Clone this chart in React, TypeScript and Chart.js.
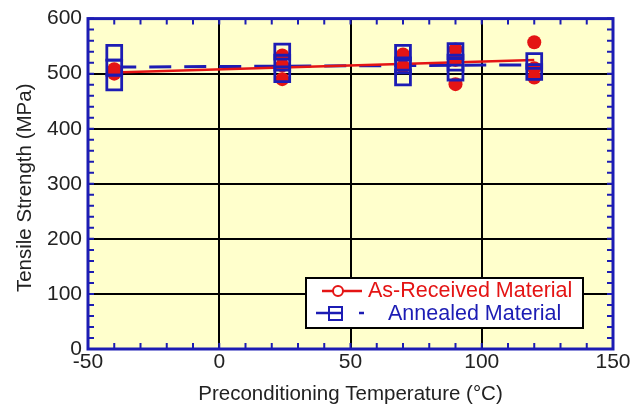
import { useEffect, useRef } from 'react';
import { Chart, registerables } from 'chart.js';

Chart.register(...registerables);

// ---- Data ----
const asReceivedX = [-40, -40, 24, 24, 24, 70, 70, 90, 90, 90, 120, 120, 120];
const asReceivedY = [508, 500, 533, 515, 490, 535, 513, 544, 525, 481, 557, 510, 493];
const annealedX = [-40, -40, -40, 24, 24, 24, 70, 70, 70, 90, 90, 90, 120, 120];
const annealedY = [538, 511, 484, 540, 520, 499, 538, 515, 493, 541, 520, 502, 523, 503];
const fitX = [-40, 120];
const asReceivedFitY = [502, 525];
const annealedFitY = [512, 516];

const X_MIN = -50;
const X_MAX = 150;
const Y_MIN = 0;
const Y_MAX = 600;
const xMajorTicks = [-50, 0, 50, 100, 150];
const yMajorTicks = [0, 100, 200, 300, 400, 500, 600];

const xTitle = 'Preconditioning Temperature (°C)';
const yTitle = 'Tensile Strength (MPa)';
const legendRed = 'As-Received Material';
const legendBlue = 'Annealed Material';

const RED = '#e41414';
const BLUE = '#1c1cb4';
const PLOT_BG = '#ffffcc';
const TEXT = '#222222';
const FONT = '"Liberation Sans", Arial, Helvetica, sans-serif';

const zip = (xs: number[], ys: number[]) => xs.map((x, i) => ({ x, y: ys[i] }));

const decorPlugin = {
  id: 'decor',
  beforeDraw(chart: any) {
    const { ctx, chartArea: a } = chart;
    ctx.save();
    ctx.fillStyle = '#ffffff';
    ctx.fillRect(0, 0, chart.width, chart.height);
    ctx.fillStyle = PLOT_BG;
    ctx.fillRect(a.left, a.top, a.right - a.left, a.bottom - a.top);
    ctx.restore();
  },
  afterDraw(chart: any) {
    const { ctx, chartArea: a } = chart;
    const xs = chart.scales.x;
    const ys = chart.scales.y;
    ctx.save();
    // minor ticks
    ctx.strokeStyle = BLUE;
    ctx.lineWidth = 2;
    const tl = 6;
    ctx.beginPath();
    for (let v = X_MIN; v <= X_MAX; v += 10) {
      const px = xs.getPixelForValue(v);
      ctx.moveTo(px, a.bottom);
      ctx.lineTo(px, a.bottom - tl);
      ctx.moveTo(px, a.top);
      ctx.lineTo(px, a.top + tl);
    }
    for (let v = Y_MIN; v <= Y_MAX; v += 20) {
      const py = ys.getPixelForValue(v);
      ctx.moveTo(a.left, py);
      ctx.lineTo(a.left + tl, py);
      ctx.moveTo(a.right, py);
      ctx.lineTo(a.right - tl, py);
    }
    ctx.stroke();
    // frame
    ctx.lineWidth = 3;
    ctx.strokeRect(a.left, a.top, a.right - a.left, a.bottom - a.top);

    // legend
    const lx = 306, ly = 278, lw = 277, lh = 50;
    ctx.fillStyle = '#ffffff';
    ctx.fillRect(lx, ly, lw, lh);
    ctx.strokeStyle = '#000';
    ctx.lineWidth = 2;
    ctx.strokeRect(lx, ly, lw, lh);

    ctx.font = `21.5px ${FONT}`;
    ctx.textBaseline = 'middle';
    ctx.textAlign = 'left';
    // red row
    ctx.strokeStyle = RED;
    ctx.lineWidth = 2.5;
    ctx.beginPath();
    ctx.moveTo(322, 291);
    ctx.lineTo(362, 291);
    ctx.stroke();
    ctx.beginPath();
    ctx.arc(338, 291, 5, 0, Math.PI * 2);
    ctx.fillStyle = '#fff';
    ctx.fill();
    ctx.lineWidth = 2;
    ctx.stroke();
    ctx.fillStyle = RED;
    ctx.fillText(legendRed, 368, 291);
    // blue row
    ctx.strokeStyle = BLUE;
    ctx.lineWidth = 2.5;
    ctx.beginPath();
    ctx.moveTo(316, 313);
    ctx.lineTo(342, 313);
    ctx.moveTo(359, 313);
    ctx.lineTo(364, 313);
    ctx.stroke();
    ctx.lineWidth = 2;
    ctx.strokeRect(329, 307, 13, 13);
    ctx.fillStyle = BLUE;
    ctx.fillText(legendBlue, 388, 314);

    // axis titles
    ctx.fillStyle = TEXT;
    ctx.font = `20.5px ${FONT}`;
    ctx.textAlign = 'center';
    ctx.textBaseline = 'middle';
    ctx.fillText(xTitle, (a.left + a.right) / 2, 394);
    ctx.save();
    ctx.translate(25, (a.top + a.bottom) / 2 + 4);
    ctx.rotate(-Math.PI / 2);
    ctx.fillText(yTitle, 0, 0);
    ctx.restore();
    ctx.restore();
  },
};

export default function App() {
  const ref = useRef<HTMLCanvasElement>(null);
  useEffect(() => {
    document.body.style.margin = '0';
    const chart = new Chart(ref.current as HTMLCanvasElement, {
      type: 'scatter',
      data: {
        datasets: [
          {
            label: legendBlue,
            data: zip(annealedX, annealedY),
            pointStyle: 'rect',
            pointRadius: 10.5,
            borderColor: BLUE,
            backgroundColor: 'rgba(0,0,0,0)',
            borderWidth: 2.8,
            showLine: false,
            order: 0,
          } as any,
          {
            label: legendRed,
            data: zip(asReceivedX, asReceivedY),
            pointStyle: 'circle',
            pointRadius: 7,
            borderColor: RED,
            backgroundColor: RED,
            borderWidth: 0,
            showLine: false,
            order: 1,
          } as any,
          {
            label: 'fit-red',
            type: 'line',
            data: zip(fitX, asReceivedFitY),
            borderColor: RED,
            borderWidth: 2.5,
            pointRadius: 0,
            fill: false,
            order: 2,
          } as any,
          {
            label: 'fit-blue',
            type: 'line',
            data: zip(fitX, annealedFitY),
            borderColor: BLUE,
            borderWidth: 3,
            borderDash: [22, 13],
            pointRadius: 0,
            fill: false,
            order: 3,
          } as any,
        ],
      },
      options: {
        responsive: false,
        animation: false,
        layout: { padding: { top: 16, right: 20, left: 0, bottom: 0 } },
        plugins: {
          legend: { display: false },
          tooltip: { enabled: false },
          title: { display: false },
        },
        scales: {
          x: {
            type: 'linear',
            min: X_MIN,
            max: X_MAX,
            afterBuildTicks: (s: any) => {
              s.ticks = xMajorTicks.map((v) => ({ value: v }));
            },
            afterFit: (s: any) => {
              s.height = 62;
            },
            ticks: {
              color: TEXT,
              font: { size: 21, family: FONT },
              padding: 1,
              maxRotation: 0,
              autoSkip: false,
              callback: (v: any) => String(v),
            },
            grid: {
              drawTicks: false,
              lineWidth: 2,
              color: (c: any) =>
                c.tick && c.tick.value > X_MIN && c.tick.value < X_MAX ? '#000' : 'rgba(0,0,0,0)',
            },
            border: { display: false },
          },
          y: {
            type: 'linear',
            min: Y_MIN,
            max: Y_MAX,
            afterBuildTicks: (s: any) => {
              s.ticks = yMajorTicks.map((v) => ({ value: v }));
            },
            afterFit: (s: any) => {
              s.width = 88;
            },
            ticks: {
              color: TEXT,
              font: { size: 21, family: FONT },
              padding: 6,
              autoSkip: false,
              callback: (v: any) => String(v),
            },
            grid: {
              drawTicks: false,
              lineWidth: 2,
              color: (c: any) =>
                c.tick && c.tick.value > Y_MIN && c.tick.value < Y_MAX ? '#000' : 'rgba(0,0,0,0)',
            },
            border: { display: false },
          },
        },
      },
      plugins: [decorPlugin],
    });
    return () => chart.destroy();
  }, []);
  return (
    <div style={{ width: 633, height: 411 }}>
      <canvas ref={ref} width={633} height={411} style={{ width: 633, height: 411, display: 'block' }} />
    </div>
  );
}
